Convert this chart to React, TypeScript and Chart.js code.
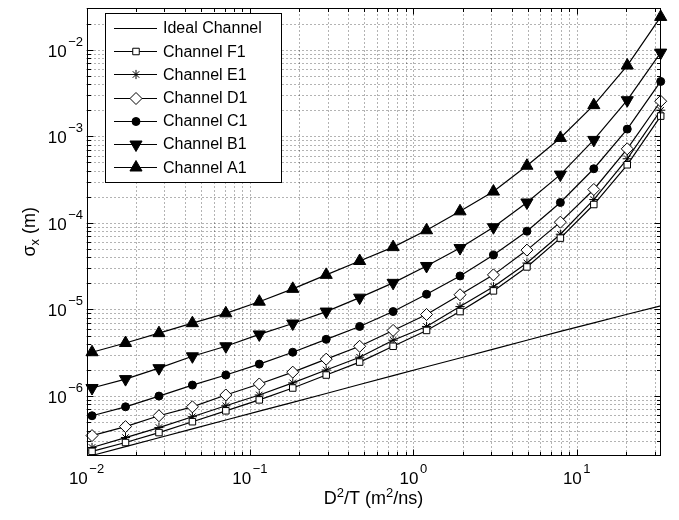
import React, { useEffect, useRef } from 'react';
import { Chart, registerables } from 'chart.js';

Chart.register(...registerables);

// ---------- data ----------
const xValues = [0.01081, 0.01733, 0.02776, 0.04447, 0.07124, 0.1141, 0.1829, 0.2930, 0.4694, 0.7522, 1.205, 1.931, 3.093, 4.957, 7.941, 12.72, 20.38, 32.65];

const idealChannel = [2.06e-7, 2.61e-7, 3.30e-7, 4.18e-7, 5.29e-7, 6.69e-7, 8.47e-7, 1.07e-6, 1.36e-6, 1.72e-6, 2.18e-6, 2.75e-6, 3.48e-6, 4.41e-6, 5.58e-6, 7.0e-6, 8.8e-6, 1.1e-5];
const channelF1 = [2.30e-7, 2.91e-7, 3.79e-7, 5.06e-7, 6.76e-7, 9.04e-7, 1.24e-6, 1.75e-6, 2.47e-6, 3.76e-6, 5.73e-6, 9.46e-6, 1.64e-5, 3.10e-5, 6.67e-5, 1.63e-4, 4.69e-4, 1.71e-3];
const channelE1 = [2.55e-7, 3.32e-7, 4.33e-7, 5.78e-7, 7.73e-7, 1.03e-6, 1.42e-6, 2.00e-6, 2.81e-6, 4.41e-6, 6.37e-6, 1.08e-5, 1.83e-5, 3.44e-5, 7.40e-5, 1.86e-4, 5.50e-4, 2.00e-3];
const channelD1 = [3.50e-7, 4.44e-7, 5.93e-7, 7.52e-7, 1.03e-6, 1.38e-6, 1.89e-6, 2.67e-6, 3.76e-6, 5.73e-6, 8.75e-6, 1.48e-5, 2.51e-5, 4.85e-5, 1.02e-4, 2.43e-4, 7.16e-4, 2.54e-3];
const channelC1 = [5.93e-7, 7.52e-7, 1.00e-6, 1.34e-6, 1.75e-6, 2.34e-6, 3.21e-6, 4.52e-6, 6.37e-6, 9.46e-6, 1.50e-5, 2.44e-5, 4.26e-5, 8.02e-5, 1.72e-4, 4.22e-4, 1.21e-3, 4.30e-3];
const channelB1 = [1.24e-6, 1.57e-6, 2.10e-6, 2.88e-6, 3.76e-6, 5.15e-6, 6.89e-6, 9.46e-6, 1.37e-5, 2.03e-5, 3.18e-5, 5.12e-5, 8.91e-5, 1.72e-4, 3.61e-4, 9.08e-4, 2.61e-3, 9.25e-3];
const channelA1 = [3.21e-6, 4.10e-6, 5.33e-6, 6.95e-6, 9.03e-6, 1.23e-5, 1.73e-5, 2.51e-5, 3.63e-5, 5.25e-5, 8.22e-5, 1.36e-4, 2.30e-4, 4.57e-4, 9.57e-4, 2.29e-3, 6.56e-3, 2.39e-2];

const seriesNames = ['Ideal Channel', 'Channel F1', 'Channel E1', 'Channel D1', 'Channel C1', 'Channel B1', 'Channel A1'];
const seriesValues = [idealChannel, channelF1, channelE1, channelD1, channelC1, channelB1, channelA1];

const xTickExponents = [-2, -1, 0, 1];
const yTickExponents = [-6, -5, -4, -3, -2];
const xGridDecades = [-2, -1, 0, 1];
const yGridDecades = [-7, -6, -5, -4, -3, -2];
const minorMultipliers = [1, 2, 3, 4, 5, 6, 7, 8, 9];

const X_MIN = 0.01;
const X_MAX = 32.65;
const Y_MIN = 2.06e-7;
const Y_MAX = 3.03e-2;

const xTitle = ['D', '2', '/T (m', '2', '/ns)'];
const yTitle = ['σ', 'x', ' (m)'];

// ---------- styles ----------
const FONT = "'Liberation Sans', Arial, Helvetica, sans-serif";
type MarkerStyle = { style: string | false; radius: number; fill: string; rotation: number };
const markerStyles: MarkerStyle[] = [
  { style: false, radius: 0, fill: '#000', rotation: 0 },
  { style: 'rect', radius: 4.6, fill: '#fff', rotation: 0 },
  { style: 'star', radius: 4.6, fill: '#fff', rotation: 0 },
  { style: 'rectRot', radius: 6, fill: '#fff', rotation: 0 },
  { style: 'circle', radius: 4, fill: '#000', rotation: 0 },
  { style: 'triangle', radius: 7, fill: '#000', rotation: 180 },
  { style: 'triangle', radius: 7, fill: '#000', rotation: 0 },
];

function drawMarker(ctx: CanvasRenderingContext2D, m: MarkerStyle, x: number, y: number) {
  if (!m.style) return;
  const r = m.radius;
  ctx.save();
  ctx.fillStyle = m.fill;
  ctx.strokeStyle = '#000';
  ctx.lineWidth = 1;
  ctx.setLineDash([]);
  ctx.beginPath();
  if (m.style === 'rect') {
    const s = Math.SQRT1_2 * r;
    ctx.rect(x - s, y - s, 2 * s, 2 * s);
    ctx.fill();
    ctx.stroke();
  } else if (m.style === 'rectRot') {
    ctx.moveTo(x - r, y);
    ctx.lineTo(x, y - r);
    ctx.lineTo(x + r, y);
    ctx.lineTo(x, y + r);
    ctx.closePath();
    ctx.fill();
    ctx.stroke();
  } else if (m.style === 'circle') {
    ctx.arc(x, y, r, 0, Math.PI * 2);
    ctx.fill();
    ctx.stroke();
  } else if (m.style === 'triangle') {
    let rad = (m.rotation * Math.PI) / 180;
    for (let i = 0; i < 3; i++) {
      const px = x + Math.sin(rad) * r;
      const py = y - Math.cos(rad) * r;
      if (i === 0) ctx.moveTo(px, py);
      else ctx.lineTo(px, py);
      rad += (2 * Math.PI) / 3;
    }
    ctx.closePath();
    ctx.fill();
    ctx.stroke();
  } else if (m.style === 'star') {
    for (let i = 0; i < 4; i++) {
      const a = (i * Math.PI) / 4;
      ctx.moveTo(x - Math.cos(a) * r, y - Math.sin(a) * r);
      ctx.lineTo(x + Math.cos(a) * r, y + Math.sin(a) * r);
    }
    ctx.stroke();
  }
  ctx.restore();
}

function drawPow(ctx: CanvasRenderingContext2D, exp: number, anchorX: number, baseY: number, align: 'center' | 'right') {
  const base = '10';
  const ex = (exp < 0 ? '\u2212' : '') + String(Math.abs(exp));
  ctx.font = `17px ${FONT}`;
  const wb = ctx.measureText(base).width;
  ctx.font = `13px ${FONT}`;
  const we = ctx.measureText(ex).width;
  const gap = 1.5;
  const total = wb + we + gap;
  const start = align === 'center' ? anchorX - total / 2 : anchorX - total;
  ctx.textAlign = 'left';
  ctx.textBaseline = 'alphabetic';
  ctx.font = `17px ${FONT}`;
  ctx.fillText(base, start, baseY);
  ctx.font = `13px ${FONT}`;
  ctx.fillText(ex, start + wb + gap, baseY - 11);
}

function drawRich(ctx: CanvasRenderingContext2D, parts: string[], kinds: number[], cx: number, baseY: number) {
  // kinds: 0 normal, 1 superscript, -1 subscript
  const big = `18px ${FONT}`;
  const small = `13px ${FONT}`;
  const widths = parts.map((p, i) => {
    ctx.font = kinds[i] === 0 ? big : small;
    return ctx.measureText(p).width;
  });
  const total = widths.reduce((a, b) => a + b, 0);
  let x = cx - total / 2;
  ctx.textAlign = 'left';
  ctx.textBaseline = 'alphabetic';
  parts.forEach((p, i) => {
    ctx.font = kinds[i] === 0 ? big : small;
    const dy = kinds[i] === 1 ? -7 : kinds[i] === -1 ? 4 : 0;
    ctx.fillText(p, x, baseY + dy);
    x += widths[i];
  });
}

const matlabPlugin = {
  id: 'matlabAxes',
  beforeDatasetsDraw(chart: any) {
    const { ctx, chartArea: a, scales } = chart;
    const xs = scales.x;
    const ys = scales.y;
    ctx.save();
    ctx.fillStyle = '#fff';
    ctx.fillRect(a.left, a.top, a.right - a.left, a.bottom - a.top);
    ctx.strokeStyle = 'rgba(0,0,0,0.6)';
    ctx.lineWidth = 1;
    ctx.setLineDash([1, 3]);
    for (const e of xGridDecades) {
      for (const m of minorMultipliers) {
        const v = m * Math.pow(10, e);
        if (v < X_MIN * 0.999 || v > X_MAX) continue;
        const px = Math.round(xs.getPixelForValue(v)) + 0.5;
        ctx.beginPath();
        ctx.moveTo(px, a.bottom);
        ctx.lineTo(px, a.top);
        ctx.stroke();
      }
    }
    for (const e of yGridDecades) {
      for (const m of minorMultipliers) {
        const v = m * Math.pow(10, e);
        if (v < Y_MIN || v > Y_MAX) continue;
        const py = Math.round(ys.getPixelForValue(v)) + 0.5;
        ctx.beginPath();
        ctx.moveTo(a.left, py);
        ctx.lineTo(a.right, py);
        ctx.stroke();
      }
    }
    ctx.restore();
  },
  afterDatasetsDraw(chart: any) {
    const { ctx, chartArea: a, scales } = chart;
    const xs = scales.x;
    const ys = scales.y;
    ctx.save();
    ctx.strokeStyle = '#000';
    ctx.lineWidth = 1;
    ctx.setLineDash([]);
    const L = Math.round(a.left) + 0.5;
    const R = Math.round(a.right) - 0.5;
    const T = Math.round(a.top) + 0.5;
    const B = Math.round(a.bottom) - 0.5;
    // ticks
    ctx.beginPath();
    for (const e of xGridDecades) {
      for (const m of minorMultipliers) {
        const v = m * Math.pow(10, e);
        if (v < X_MIN * 0.999 || v > X_MAX) continue;
        const len = m === 1 ? 6 : 3.5;
        const px = Math.round(xs.getPixelForValue(v)) + 0.5;
        ctx.moveTo(px, B);
        ctx.lineTo(px, B - len);
        ctx.moveTo(px, T);
        ctx.lineTo(px, T + len);
      }
    }
    for (const e of yGridDecades) {
      for (const m of minorMultipliers) {
        const v = m * Math.pow(10, e);
        if (v < Y_MIN || v > Y_MAX) continue;
        const len = m === 1 ? 6 : 3.5;
        const py = Math.round(ys.getPixelForValue(v)) + 0.5;
        ctx.moveTo(L, py);
        ctx.lineTo(L + len, py);
        ctx.moveTo(R, py);
        ctx.lineTo(R - len, py);
      }
    }
    ctx.stroke();
    ctx.strokeRect(L, T, R - L, B - T);

    // tick labels
    ctx.fillStyle = '#000';
    for (const e of xTickExponents) {
      const px = xs.getPixelForValue(Math.pow(10, e));
      drawPow(ctx, e, px, 484, 'center');
    }
    for (const e of yTickExponents) {
      const py = ys.getPixelForValue(Math.pow(10, e));
      drawPow(ctx, e, 83, py + 7, 'right');
    }

    // axis titles
    drawRich(ctx, xTitle, [0, 1, 0, 1, 0], (a.left + a.right) / 2, 504);
    ctx.save();
    ctx.translate(35, (a.top + a.bottom) / 2);
    ctx.rotate(-Math.PI / 2);
    drawRich(ctx, yTitle, [0, -1, 0], 0, 0);
    ctx.restore();

    // legend
    const lx = 105.5, ly = 13.5, lw = 176, lh = 169;
    ctx.fillStyle = '#fff';
    ctx.fillRect(lx, ly, lw, lh);
    ctx.strokeStyle = '#000';
    ctx.lineWidth = 1;
    ctx.strokeRect(lx, ly, lw, lh);
    seriesNames.forEach((name, i) => {
      const rowY = 28 + i * 23.2;
      ctx.beginPath();
      ctx.strokeStyle = '#000';
      ctx.lineWidth = 1.2;
      ctx.moveTo(114, Math.round(rowY) + 0.5);
      ctx.lineTo(157, Math.round(rowY) + 0.5);
      ctx.stroke();
      drawMarker(ctx, markerStyles[i], 136, Math.round(rowY) + 0.5);
      ctx.fillStyle = '#000';
      ctx.font = `16px ${FONT}`;
      ctx.textAlign = 'left';
      ctx.textBaseline = 'middle';
      ctx.fillText(name, 163, rowY + 1);
    });
    ctx.restore();
  },
};

export default function App() {
  const canvasRef = useRef<HTMLCanvasElement | null>(null);

  useEffect(() => {
    if (!canvasRef.current) return;
    const datasets = seriesValues.map((vals, i) => {
      const m = markerStyles[i];
      return {
        label: seriesNames[i],
        data: vals.map((v, k) => ({ x: xValues[k], y: v })),
        borderColor: '#000',
        borderWidth: 1.2,
        backgroundColor: m.fill,
        pointStyle: m.style || 'circle',
        pointRadius: m.style ? m.radius : 0,
        pointRotation: m.rotation,
        pointBackgroundColor: m.fill,
        pointBorderColor: '#000',
        pointBorderWidth: 1,
        tension: 0,
        fill: false,
        clip: false,
      };
    });
    const chart = new Chart(canvasRef.current, {
      type: 'line',
      data: { datasets: datasets as any },
      options: {
        animation: false,
        responsive: false,
        devicePixelRatio: 1,
        layout: { padding: { top: 4, right: 18.3, left: 0, bottom: 0 } },
        plugins: { legend: { display: false }, tooltip: { enabled: false } },
        scales: {
          x: {
            type: 'logarithmic',
            min: X_MIN,
            max: X_MAX,
            grid: { display: false },
            border: { display: false },
            ticks: { display: false },
            afterFit: (s: any) => { s.height = 64.5; },
          },
          y: {
            type: 'logarithmic',
            min: Y_MIN,
            max: Y_MAX,
            grid: { display: false },
            border: { display: false },
            ticks: { display: false },
            afterFit: (s: any) => { s.width = 86.5; },
          },
        },
      },
      plugins: [matlabPlugin],
    });
    return () => chart.destroy();
  }, []);

  return (
    <div style={{ position: 'fixed', left: 0, top: 0, width: 679, height: 520, background: '#fff' }}>
      <canvas ref={canvasRef} width={679} height={520} style={{ display: 'block' }} />
    </div>
  );
}
